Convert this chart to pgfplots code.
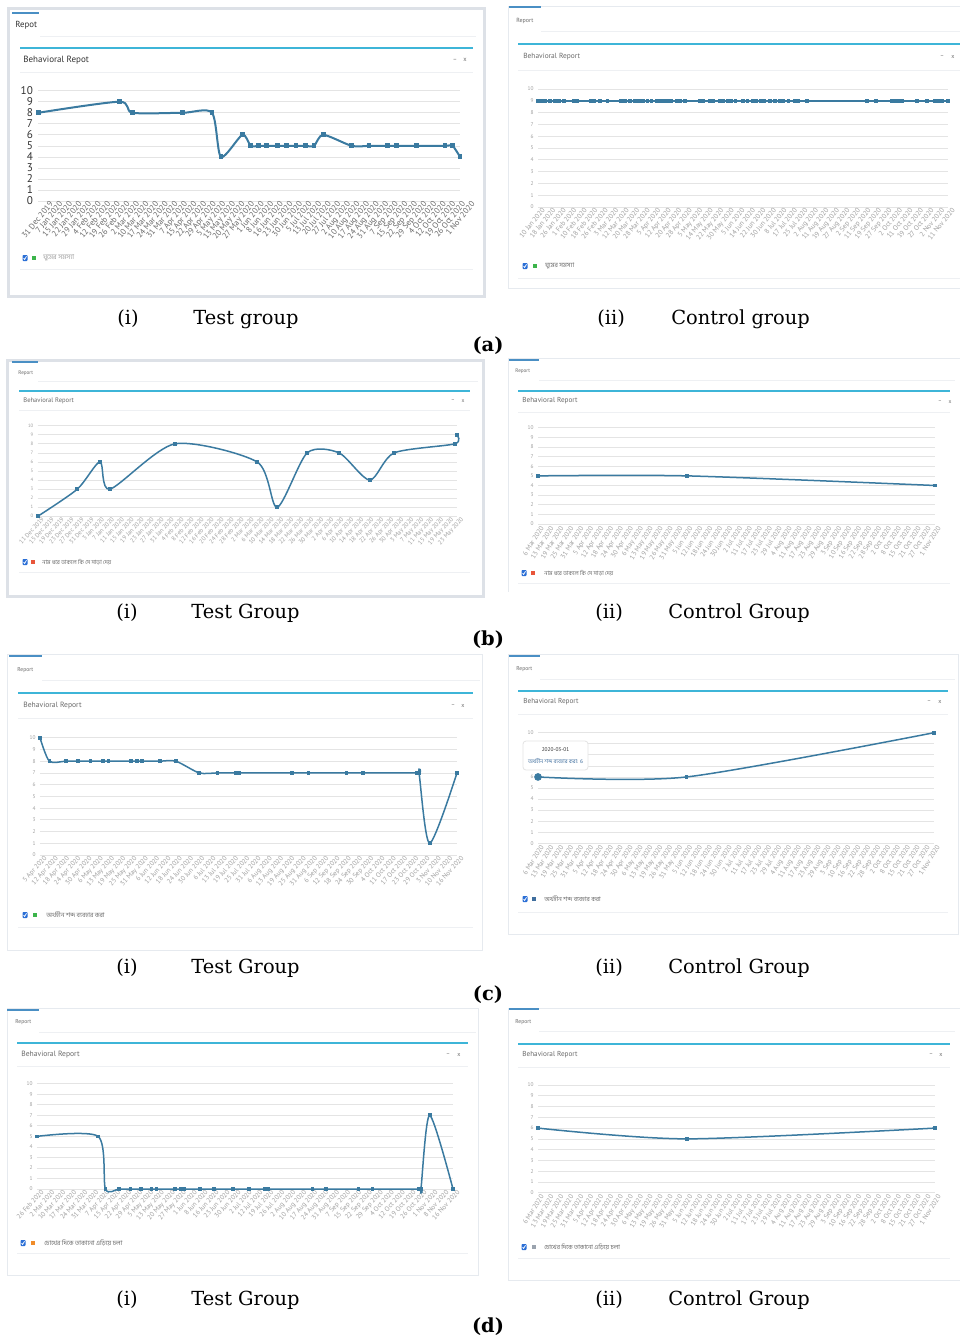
\documentclass[border=0pt]{standalone}
\usepackage{pgfplots}
\pgfplotsset{compat=1.18}
\usepackage{fontspec}
\setmainfont{PT Sans}
\newfontfamily\ui{PT Sans}
\newfontfamily\capf{DejaVu Serif}
\newfontfamily\bn[Script=Bengali]{Hind Siliguri}
\newcommand\fs[1]{\fontsize{#1}{#1}\selectfont}
\definecolor{lineC}{HTML}{3A7AA0}
\definecolor{tealC}{HTML}{3DB5D8}
\definecolor{tabC}{HTML}{4A8FC4}
\definecolor{frameC}{HTML}{DDE1E7}
\definecolor{thinC}{HTML}{E6EAEF}
\definecolor{sepC}{HTML}{EEF0F3}
\definecolor{gridC}{HTML}{E4E4E4}
\definecolor{tickC}{HTML}{A0A0A0}
\definecolor{uiC}{HTML}{6A6A6A}
\definecolor{darkC}{HTML}{333333}
\definecolor{cbC}{HTML}{2B6FD6}
\definecolor{greenC}{HTML}{3CB44B}
\definecolor{redC}{HTML}{E8553A}
\definecolor{orangeC}{HTML}{F08C2A}
\definecolor{slateC}{HTML}{3F6E9E}
\definecolor{grayC}{HTML}{9AA3AE}
\pgfplotsset{
  panel/.style={scale only axis, anchor=south west, xmin=0, ymin=0, ymax=10,
    ytick={0,1,...,10}, yticklabels={0,1,2,3,4,5,6,7,8,9,10},
    axis line style={draw=none}, major tick length=0pt,
    ymajorgrids, grid style={gridC, line width=0.35pt}, clip=false,
    xticklabel style={anchor=north east, inner sep=0.3pt, yshift=-1.3pt, text=tickC},
    yticklabel style={anchor=east, inner sep=0pt, xshift=-2pt, text=tickC, font=\ui\fs{2.7}}},
  ctrl/.style={xticklabel style={rotate=58, xshift=1.5pt, font=\ui\fs{3.4}}},
  tst/.style={xticklabel style={rotate=48, xshift=2.5pt, font=\ui\fs{3.4}}},
  curve/.style={lineC, line width=0.75pt, smooth, tension=0.45, mark=square*, mark size=0.55pt, mark options={lineC}}
}
\newcommand\cbox[2]{%
  \fill[cbC, rounded corners=0.4pt] (#1-2.5,#2-3) rectangle (#1+2.5,#2+3);
  \draw[white, line width=0.35pt] (#1-1.4,#2+0.1) -- (#1-0.4,#2+1.5) -- (#1+1.5,#2-1.7);}
\newcommand\sq[3]{\fill[#3] (#1-2,#2-2.2) rectangle (#1+2,#2+2.2);}
\begin{document}
\begin{tikzpicture}[x=0.5pt,y=-0.5pt]
\fill[white] (0,0) rectangle (960,1341);
\useasboundingbox (0,0) rectangle (960,1341);

% ================= (a)(i) =================
\draw[frameC, line width=1.5pt, fill=white] (8,8) rectangle (484,296);
\draw[tabC, line width=0.9pt] (12,13) -- (39,13);
\node[anchor=west, inner sep=0, text=darkC, font=\ui\fs{4.4}] at (15,25) {Repot};
\draw[sepC, line width=0.4pt] (40,36) -- (476,36);
\draw[tealC, line width=1pt] (20,48) -- (473,48);
\node[anchor=west, inner sep=0, text=darkC, font=\ui\fs{4.5}] at (23,60) {Behavioral Repot};
\node[inner sep=0, text=uiC, font=\ui\fs{3.2}] at (455,60) {–};
\node[inner sep=0, text=uiC, font=\ui\fs{3.2}] at (465,60) {x};
\draw[sepC, line width=0.4pt] (20,72) -- (473,72);
\cbox{25}{258}\sq{34}{258}{greenC}
\node[anchor=west, inner sep=0, text=tickC, font=\bn\fs{3.4}] at (43,258) {ঘুমের সমস্যা};
\draw[sepC, line width=0.4pt] (20,269) -- (473,269);
\begin{axis}[panel, at={(19.15pt,-100.5pt)}, width=210.85pt, height=55.15pt, xmax=44,
  xtick={0,...,44},
  xticklabel style={rotate=51, font=\ui\fs{4.1}, text=uiC, xshift=5pt, yshift=-2.7pt},
  yticklabel style={font=\ui\fs{5.6}, text=darkC, xshift=-0.5pt},
  xticklabels={31 Dec 2019,7 Jan 2020,15 Jan 2020,22 Jan 2020,29 Jan 2020,4 Feb 2020,12 Feb 2020,19 Feb 2020,26 Feb 2020,2 Mar 2020,10 Mar 2020,17 Mar 2020,24 Mar 2020,31 Mar 2020,7 Apr 2020,15 Apr 2020,22 Apr 2020,29 Apr 2020,5 May 2020,13 May 2020,20 May 2020,27 May 2020,1 Jun 2020,8 Jun 2020,16 Jun 2020,23 Jun 2020,30 Jun 2020,5 Jul 2020,13 Jul 2020,20 Jul 2020,27 Jul 2020,2 Aug 2020,10 Aug 2020,17 Aug 2020,24 Aug 2020,31 Aug 2020,7 Sep 2020,15 Sep 2020,22 Sep 2020,29 Sep 2020,4 Oct 2020,12 Oct 2020,19 Oct 2020,26 Oct 2020,1 Nov 2020}]
\addplot[curve, line width=1pt, mark size=0.7pt] coordinates {
(0,8) (8.45,9) (9.84,8) (15.06,8) (18.12,8) (19.06,4) (21.29,6) (22.16,5) (22.96,5) (23.83,5) (24.94,5) (25.91,5) (26.89,5) (27.86,5) (28.77,5) (29.74,6) (32.70,5) (34.50,5) (36.45,5) (37.39,5) (39.48,5) (42.43,5) (43.23,5) (44,4)};
\end{axis}

% ================= (a)(ii) =================
\draw[thinC, line width=0.4pt] (962,6) -- (508,6) -- (508,288) -- (962,288);
\draw[tabC, line width=0.8pt] (509,7) -- (541,7);
\node[anchor=west, inner sep=0, text=uiC, font=\ui\fs{3}] at (516,21) {Report};
\draw[sepC, line width=0.4pt] (541,31) -- (962,31);
\draw[tealC, line width=0.9pt] (518,44) -- (962,44);
\node[anchor=west, inner sep=0, text=uiC, font=\ui\fs{3.7}] at (523,57) {Behavioral Report};
\node[inner sep=0, text=uiC, font=\ui\fs{3}] at (942,57) {–};
\node[inner sep=0, text=uiC, font=\ui\fs{3}] at (953,57) {x};
\draw[sepC, line width=0.4pt] (518,70) -- (962,70);
\cbox{525}{266}\sq{535}{266}{greenC}
\node[anchor=west, inner sep=0, text=uiC, font=\bn\fs{3.2}] at (545,266) {ঘুমের সমস্যা};
\draw[sepC, line width=0.4pt] (518,278) -- (962,278);
\begin{axis}[panel, at={(269pt,-103.5pt)}, width=205pt, height=59pt, xmax=39,
  xtick={0,...,39},
  xticklabel style={rotate=51, font=\ui\fs{3.5}, xshift=2.5pt},
  xticklabels={10 Jan 2020,18 Jan 2020,26 Jan 2020,1 Feb 2020,10 Feb 2020,18 Feb 2020,26 Feb 2020,3 Mar 2020,12 Mar 2020,20 Mar 2020,28 Mar 2020,5 Apr 2020,12 Apr 2020,20 Apr 2020,28 Apr 2020,5 May 2020,14 May 2020,22 May 2020,30 May 2020,5 Jun 2020,14 Jun 2020,22 Jun 2020,30 Jun 2020,8 Jul 2020,17 Jul 2020,25 Jul 2020,2 Aug 2020,11 Aug 2020,19 Aug 2020,27 Aug 2020,2 Sep 2020,11 Sep 2020,19 Sep 2020,27 Sep 2020,2 Oct 2020,11 Oct 2020,19 Oct 2020,27 Oct 2020,2 Nov 2020,11 Nov 2020}]
\addplot[curve, sharp plot] coordinates {
(0,9) (0.38,9) (0.70,9) (1.11,9) (1.59,9) (1.97,9) (2.48,9) (3.43,9) (3.75,9) (5.02,9) (5.34,9) (5.88,9) (6.61,9) (7.88,9) (8.10,9) (8.32,9) (8.73,9) (9.21,9) (9.59,9) (10.00,9) (10.42,9) (10.80,9) (11.27,9) (11.59,9) (12.00,9) (12.39,9) (12.70,9) (13.18,9) (13.50,9) (13.97,9) (15.40,9) (15.72,9) (16.36,9) (16.67,9) (17.31,9) (17.63,9) (18.04,9) (18.42,9) (18.80,9) (19.53,9) (19.94,9) (20.48,9) (20.71,9) (21.22,9) (21.53,9) (22.07,9) (22.55,9) (23.03,9) (23.34,9) (23.82,9) (24.39,9) (24.71,9) (25.57,9) (31.28,9) (32.14,9) (33.66,9) (33.92,9) (34.24,9) (34.62,9) (36.05,9) (37.00,9) (37.79,9) (38.05,9) (38.43,9) (39,9)};
\end{axis}

% ================= (b)(i) =================
\draw[frameC, line width=1.5pt, fill=white] (7,360) rectangle (483,596);
\draw[tabC, line width=0.8pt] (12,362) -- (38,362);
\node[anchor=west, inner sep=0, text=uiC, font=\ui\fs{2.6}] at (18,373) {Report};
\draw[sepC, line width=0.4pt] (38,381) -- (478,381);
\draw[tealC, line width=0.9pt] (19,391) -- (470,391);
\node[anchor=west, inner sep=0, text=uiC, font=\ui\fs{3.3}] at (23,401) {Behavioral Report};
\node[inner sep=0, text=uiC, font=\ui\fs{2.8}] at (453,401) {–};
\node[inner sep=0, text=uiC, font=\ui\fs{2.8}] at (463,401) {x};
\draw[sepC, line width=0.4pt] (19,410) -- (470,410);
\cbox{25}{562}\sq{33}{562}{redC}
\node[anchor=west, inner sep=0, text=uiC, font=\bn\fs{2.9}] at (42,562) {নাম ধরে ডাকলে কি সে সাড়া দেয়};
\draw[sepC, line width=0.4pt] (19,572) -- (470,572);
\begin{axis}[panel, tst, at={(18.85pt,-258.15pt)}, width=209.65pt, height=45.3pt, xmax=42,
  xtick={0,...,42},
  xticklabel style={font=\ui\fs{3.1}},
  yticklabel style={font=\ui\fs{2.4}},
  xticklabels={11 Dec 2019,15 Dec 2019,19 Dec 2019,23 Dec 2019,27 Dec 2019,31 Dec 2019,3 Jan 2020,7 Jan 2020,11 Jan 2020,15 Jan 2020,19 Jan 2020,23 Jan 2020,27 Jan 2020,31 Jan 2020,4 Feb 2020,8 Feb 2020,12 Feb 2020,16 Feb 2020,20 Feb 2020,24 Feb 2020,28 Feb 2020,2 Mar 2020,6 Mar 2020,10 Mar 2020,14 Mar 2020,18 Mar 2020,22 Mar 2020,26 Mar 2020,30 Mar 2020,2 Apr 2020,6 Apr 2020,10 Apr 2020,14 Apr 2020,18 Apr 2020,22 Apr 2020,26 Apr 2020,30 Apr 2020,3 May 2020,7 May 2020,11 May 2020,15 May 2020,19 May 2020,23 May 2020}]
\addplot[curve] coordinates {
(0,0) (3.97,3) (6.24,6) (7.24,3) (13.74,8) (21.98,6) (23.99,1) (26.99,7) (30.19,7) (33.26,4) (35.70,7) (41.77,8) (42,9)};
\end{axis}

% ================= (b)(ii) =================
\draw[thinC, line width=0.4pt] (962,358) -- (508,358) -- (508,592);
\draw[tabC, line width=0.8pt] (509,360) -- (539,360);
\node[anchor=west, inner sep=0, text=uiC, font=\ui\fs{2.6}] at (515,371) {Report};
\draw[sepC, line width=0.4pt] (539,380) -- (955,380);
\draw[tealC, line width=0.9pt] (518,391) -- (950,391);
\node[anchor=west, inner sep=0, text=uiC, font=\ui\fs{3.6}] at (522,401) {Behavioral Report};
\node[inner sep=0, text=uiC, font=\ui\fs{2.8}] at (940,402) {–};
\node[inner sep=0, text=uiC, font=\ui\fs{2.8}] at (950,402) {x};
\draw[sepC, line width=0.4pt] (518,412) -- (950,412);
\cbox{524}{573}\sq{533}{573}{redC}
\node[anchor=west, inner sep=0, text=uiC, font=\bn\fs{2.9}] at (544,573) {নাম ধরে ডাকলে কি সে সাড়া দেয়};
\draw[sepC, line width=0.4pt] (518,583) -- (950,583);
\begin{axis}[panel, ctrl, at={(269pt,-262pt)}, width=198.5pt, height=48.15pt, xmax=40,
  xtick={0,...,40},
  xticklabels={6 Mar 2020,13 Mar 2020,19 Mar 2020,25 Mar 2020,31 Mar 2020,5 Apr 2020,12 Apr 2020,18 Apr 2020,24 Apr 2020,30 Apr 2020,6 May 2020,13 May 2020,19 May 2020,26 May 2020,31 May 2020,5 Jun 2020,12 Jun 2020,18 Jun 2020,24 Jun 2020,30 Jun 2020,2 Jul 2020,11 Jul 2020,17 Jul 2020,23 Jul 2020,29 Jul 2020,4 Aug 2020,11 Aug 2020,17 Aug 2020,23 Aug 2020,29 Aug 2020,3 Sep 2020,10 Sep 2020,16 Sep 2020,22 Sep 2020,28 Sep 2020,2 Oct 2020,8 Oct 2020,15 Oct 2020,21 Oct 2020,27 Oct 2020,1 Nov 2020}]
\addplot[curve] coordinates {(0,5) (15,5) (40,4)};
\end{axis}

% ================= (c)(i) =================
\draw[thinC, line width=0.5pt, fill=white] (7,654) rectangle (482,950);
\draw[tabC, line width=0.8pt] (9,656) -- (42,656);
\node[anchor=west, inner sep=0, text=uiC, font=\ui\fs{2.8}] at (17,670) {Report};
\draw[sepC, line width=0.4pt] (42,680) -- (480,680);
\draw[tealC, line width=0.9pt] (18,693) -- (473,693);
\node[anchor=west, inner sep=0, text=uiC, font=\ui\fs{3.8}] at (23,706) {Behavioral Report};
\node[inner sep=0, text=uiC, font=\ui\fs{3}] at (453,706) {–};
\node[inner sep=0, text=uiC, font=\ui\fs{3}] at (463,706) {x};
\draw[sepC, line width=0.4pt] (18,718) -- (473,718);
\cbox{25}{915}\sq{35}{915}{greenC}
\node[anchor=west, inner sep=0, text=uiC, font=\bn\fs{3.2}] at (46,915) {অর্থহীন শব্দ ব্যবহার করা};
\draw[sepC, line width=0.4pt] (18,927) -- (473,927);
\begin{axis}[panel, tst, at={(20pt,-427.5pt)}, width=208.5pt, height=58.65pt, xmax=37,
  xtick={0,...,37},
  xticklabels={5 Apr 2020,12 Apr 2020,18 Apr 2020,24 Apr 2020,30 Apr 2020,6 May 2020,13 May 2020,19 May 2020,25 May 2020,31 May 2020,6 Jun 2020,12 Jun 2020,18 Jun 2020,24 Jun 2020,30 Jun 2020,6 Jul 2020,13 Jul 2020,19 Jul 2020,25 Jul 2020,31 Jul 2020,6 Aug 2020,13 Aug 2020,19 Aug 2020,25 Aug 2020,31 Aug 2020,6 Sep 2020,12 Sep 2020,18 Sep 2020,24 Sep 2020,30 Sep 2020,4 Oct 2020,11 Oct 2020,17 Oct 2020,23 Oct 2020,29 Oct 2020,3 Nov 2020,10 Nov 2020,16 Nov 2020}]
\addplot[curve] coordinates {
(0,10) (0.83,8) (2.28,8) (3.40,8) (4.49,8) (5.62,8) (6.09,8) (8.07,8) (8.63,8) (9.04,8) (10.64,8) (12.06,8) (14.13,7) (15.75,7) (17.35,7) (17.67,7) (22.37,7) (23.82,7) (27.19,7) (28.67,7) (33.48,7) (33.63,7) (34.58,1) (37,7)};
\end{axis}

% ================= (c)(ii) =================
\draw[thinC, line width=0.5pt, fill=white] (508,654) rectangle (958,934);
\draw[tabC, line width=0.8pt] (509,656) -- (540,656);
\node[anchor=west, inner sep=0, text=uiC, font=\ui\fs{2.8}] at (516,669) {Report};
\draw[sepC, line width=0.4pt] (540,679) -- (955,679);
\draw[tealC, line width=0.9pt] (518,691) -- (948,691);
\node[anchor=west, inner sep=0, text=uiC, font=\ui\fs{3.6}] at (523,702) {Behavioral Report};
\node[inner sep=0, text=uiC, font=\ui\fs{3}] at (929,702) {–};
\node[inner sep=0, text=uiC, font=\ui\fs{3}] at (940,702) {x};
\draw[sepC, line width=0.4pt] (518,714) -- (948,714);
\cbox{525}{899}\sq{534}{899}{slateC}
\node[anchor=west, inner sep=0, text=uiC, font=\bn\fs{3.1}] at (544,899) {অর্থহীন শব্দ ব্যবহার করা};
\draw[sepC, line width=0.4pt] (518,912) -- (948,912);
\begin{axis}[panel, ctrl, at={(269pt,-421.65pt)}, width=198pt, height=55.3pt, xmax=40,
  xtick={0,...,40},
  xticklabels={6 Mar 2020,13 Mar 2020,19 Mar 2020,25 Mar 2020,31 Mar 2020,5 Apr 2020,12 Apr 2020,18 Apr 2020,24 Apr 2020,30 Apr 2020,6 May 2020,13 May 2020,19 May 2020,26 May 2020,31 May 2020,5 Jun 2020,12 Jun 2020,18 Jun 2020,24 Jun 2020,30 Jun 2020,2 Jul 2020,11 Jul 2020,17 Jul 2020,23 Jul 2020,29 Jul 2020,4 Aug 2020,11 Aug 2020,17 Aug 2020,23 Aug 2020,29 Aug 2020,3 Sep 2020,10 Sep 2020,16 Sep 2020,22 Sep 2020,28 Sep 2020,2 Oct 2020,8 Oct 2020,15 Oct 2020,21 Oct 2020,27 Oct 2020,1 Nov 2020}]
\addplot[curve] coordinates {(0,6) (15,6) (40,10)};
\addplot[lineC, only marks, mark=*, mark size=1.7pt] coordinates {(0,6)};
\end{axis}
\draw[gridC, line width=0.4pt, fill=white, rounded corners=1.5pt] (523,741) rectangle (588,770);
\node[inner sep=0, text=darkC, font=\ui\fs{2.7}] at (555.5,750) {2020-03-01};
\node[inner sep=0, text=slateC, font=\bn\fs{2.7}] at (555.5,761) {অর্থহীন শব্দ ব্যবহার করা: 6};

% ================= (d)(i) =================
\draw[thinC, line width=0.5pt, fill=white] (7,1008) rectangle (478,1275);
\draw[tabC, line width=0.8pt] (7,1010) -- (39,1010);
\node[anchor=west, inner sep=0, text=uiC, font=\ui\fs{2.8}] at (15,1022) {Report};
\draw[sepC, line width=0.4pt] (39,1032) -- (476,1032);
\draw[tealC, line width=0.9pt] (17,1043) -- (468,1043);
\node[anchor=west, inner sep=0, text=uiC, font=\ui\fs{3.8}] at (21,1055) {Behavioral Report};
\node[inner sep=0, text=uiC, font=\ui\fs{3}] at (448,1055) {–};
\node[inner sep=0, text=uiC, font=\ui\fs{3}] at (459,1055) {x};
\draw[sepC, line width=0.4pt] (17,1066) -- (468,1066);
\cbox{23}{1243}\sq{33}{1243}{orangeC}
\node[anchor=west, inner sep=0, text=uiC, font=\bn\fs{3.2}] at (44,1243) {চোখের দিকে তাকানো এড়িয়ে চলা};
\draw[sepC, line width=0.4pt] (17,1253) -- (468,1253);
\begin{axis}[panel, tst, at={(18.5pt,-594.5pt)}, width=208pt, height=52.65pt, xmax=38,
  xtick={0,...,38},
  xticklabels={26 Feb 2020,2 Mar 2020,10 Mar 2020,17 Mar 2020,24 Mar 2020,31 Mar 2020,7 Apr 2020,15 Apr 2020,22 Apr 2020,29 Apr 2020,5 May 2020,13 May 2020,20 May 2020,27 May 2020,1 Jun 2020,8 Jun 2020,16 Jun 2020,23 Jun 2020,30 Jun 2020,2 Jul 2020,12 Jul 2020,19 Jul 2020,26 Jul 2020,2 Aug 2020,10 Aug 2020,17 Aug 2020,24 Aug 2020,31 Aug 2020,7 Sep 2020,15 Sep 2020,22 Sep 2020,29 Sep 2020,4 Oct 2020,12 Oct 2020,19 Oct 2020,26 Oct 2020,1 Nov 2020,8 Nov 2020,16 Nov 2020}]
\addplot[curve] coordinates {
(0,5) (5.58,5) (6.25,0) (7.50,0) (8.54,0) (9.52,0) (10.46,0) (10.92,0) (12.60,0) (13.14,0) (13.45,0) (14.88,0) (16.16,0) (17.93,0) (19.37,0) (20.77,0) (21.07,0) (25.16,0) (26.41,0) (29.37,0) (30.65,0) (34.92,0) (35.07,0) (35.87,7) (38,0)};
\end{axis}

% ================= (d)(ii) =================
\draw[thinC, line width=0.5pt, fill=white] (508,1008) rectangle (962,1280);
\draw[tabC, line width=0.8pt] (509,1009) -- (539,1009);
\node[anchor=west, inner sep=0, text=uiC, font=\ui\fs{2.8}] at (515,1022) {Report};
\draw[sepC, line width=0.4pt] (539,1031) -- (955,1031);
\draw[tealC, line width=0.9pt] (518,1044) -- (950,1044);
\node[anchor=west, inner sep=0, text=uiC, font=\ui\fs{3.6}] at (522,1055) {Behavioral Report};
\node[inner sep=0, text=uiC, font=\ui\fs{3}] at (931,1055) {–};
\node[inner sep=0, text=uiC, font=\ui\fs{3}] at (941,1055) {x};
\draw[sepC, line width=0.4pt] (518,1067) -- (950,1067);
\cbox{524}{1247}\sq{534}{1247}{grayC}
\node[anchor=west, inner sep=0, text=uiC, font=\bn\fs{3.1}] at (544,1247) {চোখের দিকে তাকানো এড়িয়ে চলা};
\draw[sepC, line width=0.4pt] (518,1258) -- (950,1258);
\begin{axis}[panel, ctrl, at={(269pt,-596.35pt)}, width=198.5pt, height=53.85pt, xmax=40,
  xtick={0,...,40},
  xticklabels={6 Mar 2020,13 Mar 2020,19 Mar 2020,25 Mar 2020,31 Mar 2020,5 Apr 2020,12 Apr 2020,18 Apr 2020,24 Apr 2020,30 Apr 2020,6 May 2020,13 May 2020,19 May 2020,26 May 2020,31 May 2020,5 Jun 2020,12 Jun 2020,18 Jun 2020,24 Jun 2020,30 Jun 2020,2 Jul 2020,11 Jul 2020,17 Jul 2020,23 Jul 2020,29 Jul 2020,4 Aug 2020,11 Aug 2020,17 Aug 2020,23 Aug 2020,29 Aug 2020,3 Sep 2020,10 Sep 2020,16 Sep 2020,22 Sep 2020,28 Sep 2020,2 Oct 2020,8 Oct 2020,15 Oct 2020,21 Oct 2020,27 Oct 2020,1 Nov 2020}]
\addplot[curve] coordinates {(0,6) (15,5) (40,6)};
\end{axis}

% ================= captions =================
\begin{scope}[every node/.style={inner sep=0, anchor=base west, font=\capf\fs{9.7}}]
\node at (117,324) {(i)}; \node at (193,324) {Test group};
\node at (597,324) {(ii)}; \node at (671,324) {Control group};
\node at (116,618) {(i)}; \node at (191,618) {Test Group};
\node at (595,618) {(ii)}; \node at (668,618) {Control Group};
\node at (116,973) {(i)}; \node at (191,973) {Test Group};
\node at (595,973) {(ii)}; \node at (668,973) {Control Group};
\node at (116,1305) {(i)}; \node at (191,1305) {Test Group};
\node at (595,1305) {(ii)}; \node at (668,1305) {Control Group};
\end{scope}
\begin{scope}[every node/.style={inner sep=0, anchor=base, font=\capf\bfseries\fs{9.7}}]
\node at (488,351) {(a)};
\node at (488,645) {(b)};
\node at (488,1000) {(c)};
\node at (488,1332) {(d)};
\end{scope}
\end{tikzpicture}
\end{document}
